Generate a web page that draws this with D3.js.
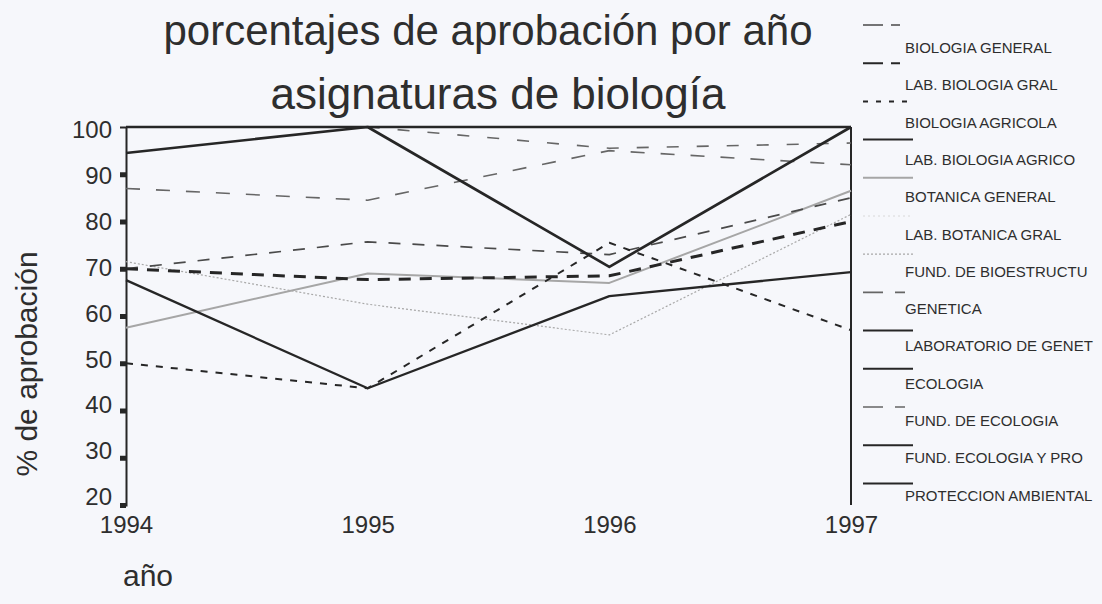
<!DOCTYPE html>
<html><head><meta charset="utf-8">
<script src="https://cdn.jsdelivr.net/npm/d3@7"></script>
<style>
html,body{margin:0;padding:0;background:#f6f7fb;}
svg{display:block;}
text{font-family:"Liberation Sans",Arial,sans-serif;fill:#2e2e2e;}
</style></head>
<body>
<svg id="chart" width="1102" height="604"></svg>
<script>
const years = [1994, 1995, 1996, 1997];
const yTicks = [20, 30, 40, 50, 60, 70, 80, 90, 100];
const subjects = [
  "BIOLOGIA GENERAL", "LAB. BIOLOGIA GRAL", "BIOLOGIA AGRICOLA", "LAB. BIOLOGIA AGRICO",
  "BOTANICA GENERAL", "LAB. BOTANICA GRAL", "FUND. DE BIOESTRUCTU", "GENETICA",
  "LABORATORIO DE GENET", "ECOLOGIA", "FUND. DE ECOLOGIA", "FUND. ECOLOGIA Y PRO",
  "PROTECCION AMBIENTAL"
];
const biologiaGeneral   = [70, 75.7, 73, 85];
const labBiologiaGral   = [70, 67.7, 68.5, 80];
const biologiaAgricola  = [50, 44.7, 75.5, 57];
const labBiologiaAgrico = [94.5, 100, 70.4, 100];
const botanicaGeneral   = [57.5, 69, 67, 86.5];
const labBotanicaGral   = [null, null, null, null];
const fundBioestructura = [71.5, 62.5, 56, 81.5];
const genetica          = [87, 84.5, 95, 92];
const labGenetica       = [100, 100, 100, 100];
const ecologia          = [67.6, 44.7, 64.2, 69.3];
const fundEcologia      = [null, 100, 95.5, 96.6];
const fundEcologiaPro   = [null, null, null, null];
const proteccionAmb     = [null, null, null, null];
const seriesValues = [biologiaGeneral, labBiologiaGral, biologiaAgricola, labBiologiaAgrico,
  botanicaGeneral, labBotanicaGral, fundBioestructura, genetica, labGenetica, ecologia,
  fundEcologia, fundEcologiaPro, proteccionAmb];

// styles (kept apart from data)
const styles = [
  {stroke:"#4a4a4a", w:1.7, dash:"12,12"},
  {stroke:"#262626", w:3, dash:"12,9"},
  {stroke:"#262626", w:2, dash:"7,8"},
  {stroke:"#262626", w:2.7, dash:null},
  {stroke:"#a6a6a6", w:2, dash:null},
  {stroke:"#d8d8d8", w:1, dash:"2,3"},
  {stroke:"#a8a8a8", w:1.2, dash:"2,2"},
  {stroke:"#666", w:1.6, dash:"14,16"},
  {stroke:"#262626", w:2.4, dash:null},
  {stroke:"#262626", w:2.3, dash:null},
  {stroke:"#666", w:1.6, dash:"12,18"},
  {stroke:"#262626", w:2, dash:null},
  {stroke:"#262626", w:2, dash:null}
];
const legendDash = ["20,8,9,20","20,8,9,20","5,8","", "", "2,3","2,2","20,12,10,20","","","20,12,10,20","",""];

const svg = d3.select("#chart");
const x = d3.scaleLinear().domain([1994, 1997]).range([126, 851]);
const y = d3.scaleLinear().domain([20, 100]).range([505, 127]);

// title
svg.append("text").attr("x", 488).attr("y", 45).attr("text-anchor","middle")
  .style("font-size","42px").text("porcentajes de aprobación por año");
svg.append("text").attr("x", 498).attr("y", 109).attr("text-anchor","middle")
  .style("font-size","44px").text("asignaturas de biología");

// frame: top & right
svg.append("line").attr("x1", x(1994)).attr("x2", x(1997)).attr("y1", y(100)).attr("y2", y(100))
  .attr("stroke","#262626").attr("stroke-width",2);
svg.append("line").attr("x1", x(1997)).attr("x2", x(1997)).attr("y1", y(100)).attr("y2", y(20))
  .attr("stroke","#262626").attr("stroke-width",2);

// y axis
const yAxis = svg.append("g").attr("transform", `translate(${x(1994)},0)`)
  .call(d3.axisLeft(y).tickValues(yTicks).tickSize(6).tickPadding(8).tickFormat(d3.format("d")));
yAxis.select(".domain").attr("stroke","#262626").attr("stroke-width",2);
yAxis.selectAll(".tick line").attr("stroke","#262626").attr("stroke-width",5)
  .filter(d => d === 100).remove();
yAxis.selectAll(".tick text").style("font-size","24px").attr("fill","#2e2e2e")
  .attr("y", d => 3 - (100 - d) / 80 * 11);

// x axis labels
const xAxis = svg.append("g").attr("transform", `translate(0,${y(20)})`)
  .call(d3.axisBottom(x).tickValues(years).tickSize(0).tickPadding(11).tickFormat(d3.format("d")));
xAxis.select(".domain").remove();
xAxis.selectAll(".tick text").style("font-size","24px").attr("fill","#2e2e2e");

// axis titles
svg.append("text").attr("transform","translate(37,364) rotate(-90)").attr("text-anchor","middle")
  .style("font-size","30px").text("% de aprobación");
svg.append("text").attr("x", 123).attr("y", 586).style("font-size","30px").text("año");

// lines
const line = d3.line().defined(d => d.v != null).x(d => x(d.year)).y(d => y(d.v));
const order = [4,5,6,0,7,10,1,2,9,3,8,11,12];
order.forEach(i => {
  const data = years.map((yr, j) => ({year: yr, v: seriesValues[i][j]}));
  const s = styles[i];
  svg.append("path").datum(data).attr("d", line).attr("fill","none")
    .attr("stroke", s.stroke).attr("stroke-width", s.w)
    .attr("stroke-dasharray", s.dash).attr("stroke-linejoin","round");
});

// legend
const leg = svg.append("g");
subjects.forEach((name, i) => {
  const sy = 25 + 38.2 * i;
  const ly = 53 + 37.3 * i;
  const s = styles[i];
  leg.append("line").attr("x1", 863).attr("x2", 913).attr("y1", sy).attr("y2", sy)
    .attr("stroke", s.stroke).attr("stroke-width", Math.min(s.w, 2))
    .attr("stroke-dasharray", legendDash[i] || null);
  leg.append("text").attr("x", 905).attr("y", ly).style("font-size","15px").text(name);
});
</script>
</body></html>
